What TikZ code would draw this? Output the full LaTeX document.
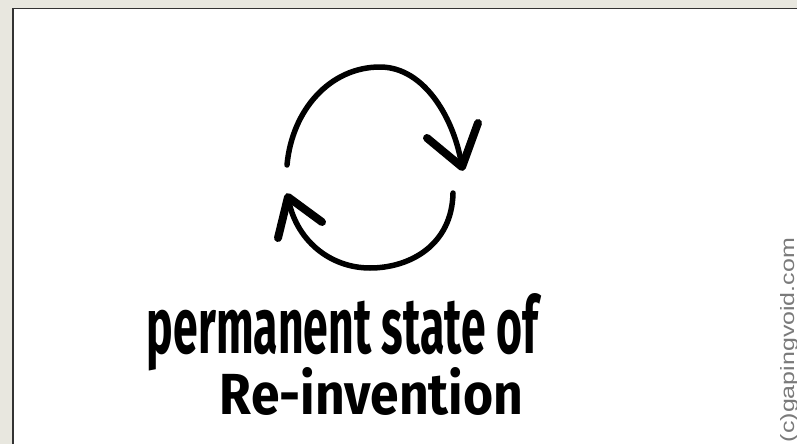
\documentclass[tikz,border=0pt]{standalone}
\usepackage{fontspec}
\usepackage{graphicx}
\newfontfamily\handfont{Fira Sans}
\newfontfamily\wmfont{Liberation Sans}
\definecolor{framebg}{HTML}{E8E7DF}
\definecolor{wmgrey}{HTML}{7A7A7A}
\begin{document}
\begin{tikzpicture}[x=1pt,y=-1pt,
  arcline/.style={line width=5.5pt,line cap=round,line join=round},
  headline/.style={line width=8pt,line cap=round,line join=round},
  handtext/.style={inner sep=0pt,outer sep=0pt,font=\handfont\bfseries}]
\fill[framebg] (0,0) rectangle (797,444);
\useasboundingbox (0,0) rectangle (797,444);
\fill[white] (12,8) rectangle (797,444);
\draw[line width=1.5pt,black!80] (12.75,444) -- (12.75,8.75) -- (797,8.75);
% top arc with arrowhead
\coordinate (ta) at (287,165);
\coordinate (tm) at (380,67);
\coordinate (tt) at (462,167);
\draw[arcline] (ta) .. controls (292,110) and (330,67) .. (tm) .. controls (425,67) and (455,120) .. (tt);
\coordinate (th1) at (427,138);
\coordinate (th2) at (478,123);
\draw[headline] (th1) -- (tt) -- (th2);
% bottom arc with arrowhead
\coordinate (ba) at (453,193);
\coordinate (bm) at (370,268);
\coordinate (bt) at (288,197);
\draw[arcline] (ba) .. controls (452,245) and (410,268) .. (bm) .. controls (330,268) and (295,240) .. (bt);
\coordinate (bh1) at (322,222);
\coordinate (bh2) at (278,238);
\draw[headline] (bh1) -- (bt) -- (bh2);
% texts
\node[handtext] (line1) at (342.5,332) {\resizebox{391pt}{60pt}{permanent state of}};
\node[handtext] (line2) at (371.5,391.5) {\resizebox{303pt}{47pt}{Re-invention}};
\node[inner sep=0pt,outer sep=0pt,rotate=90,text=wmgrey] (wm) at (789,340) {\resizebox{204pt}{14pt}{\wmfont (c)gapingvoid.com}};
\end{tikzpicture}
\end{document}
